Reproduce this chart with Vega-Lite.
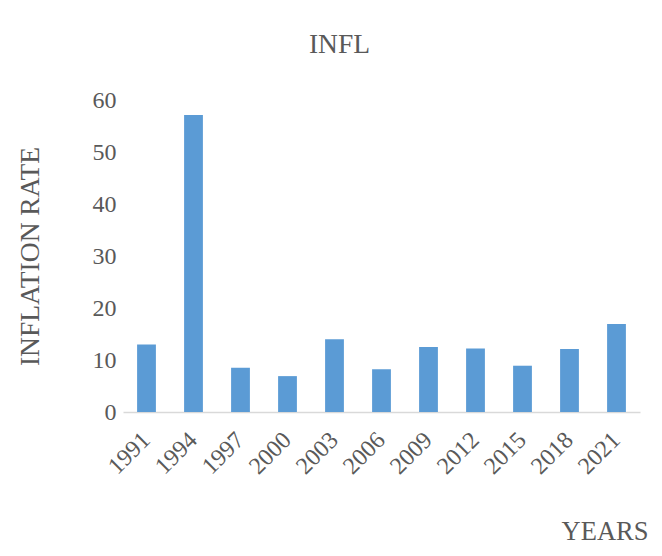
{
  "$schema": "https://vega.github.io/schema/vega-lite/v6.json",
  "autosize": {"type": "none"},
  "padding": {"left": 123, "top": 100, "right": 22, "bottom": 144},
  "width": 517,
  "height": 312,
  "background": "white",
  "config": {
    "view": {"stroke": null},
    "font": "Liberation Serif",
    "title": {"font": "Liberation Serif", "fontSize": 27.5, "fontWeight": "normal", "color": "#595959"}
  },
  "title": {"text": "INFL", "anchor": "middle", "dx": -42, "offset": 30},
  "data": {
    "values": [
      {"year": "1991", "infl": 13.0},
      {"year": "1994", "infl": 57.1},
      {"year": "1997", "infl": 8.5},
      {"year": "2000", "infl": 6.9},
      {"year": "2003", "infl": 14.0},
      {"year": "2006", "infl": 8.2},
      {"year": "2009", "infl": 12.5},
      {"year": "2012", "infl": 12.2},
      {"year": "2015", "infl": 8.9},
      {"year": "2018", "infl": 12.1},
      {"year": "2021", "infl": 16.9}
    ]
  },
  "mark": {"type": "bar", "color": "#5B9BD5"},
  "encoding": {
    "x": {
      "field": "year",
      "type": "ordinal",
      "sort": null,
      "scale": {"paddingInner": 0.6, "paddingOuter": 0.3},
      "axis": {
        "title": "YEARS",
        "titleFont": "Liberation Serif",
        "titleFontSize": 26.5,
        "titleFontWeight": "normal",
        "titleColor": "#595959",
        "titleAnchor": "end",
        "titleAlign": "right",
        "titleX": 525,
        "titleY": 127,
        "titleBaseline": "alphabetic",
        "labelAngle": -45,
        "labelAlign": "right",
        "labelBaseline": "middle",
        "labelFont": "Liberation Serif",
        "labelFontSize": 24,
        "labelColor": "#595959",
        "labelPadding": 24,
        "ticks": false,
        "domainColor": "#D9D9D9",
        "domainWidth": 1.5,
        "grid": false
      }
    },
    "y": {
      "field": "infl",
      "type": "quantitative",
      "scale": {"domain": [0, 60], "nice": false},
      "axis": {
        "title": "INFLATION RATE",
        "titleFont": "Liberation Serif",
        "titleFontSize": 27.5,
        "titleFontWeight": "normal",
        "titleColor": "#595959",
        "titlePadding": 48,
        "values": [0, 10, 20, 30, 40, 50, 60],
        "labelFont": "Liberation Serif",
        "labelFontSize": 24,
        "labelColor": "#595959",
        "labelPadding": 7,
        "ticks": false,
        "domain": false,
        "grid": false
      }
    }
  }
}
